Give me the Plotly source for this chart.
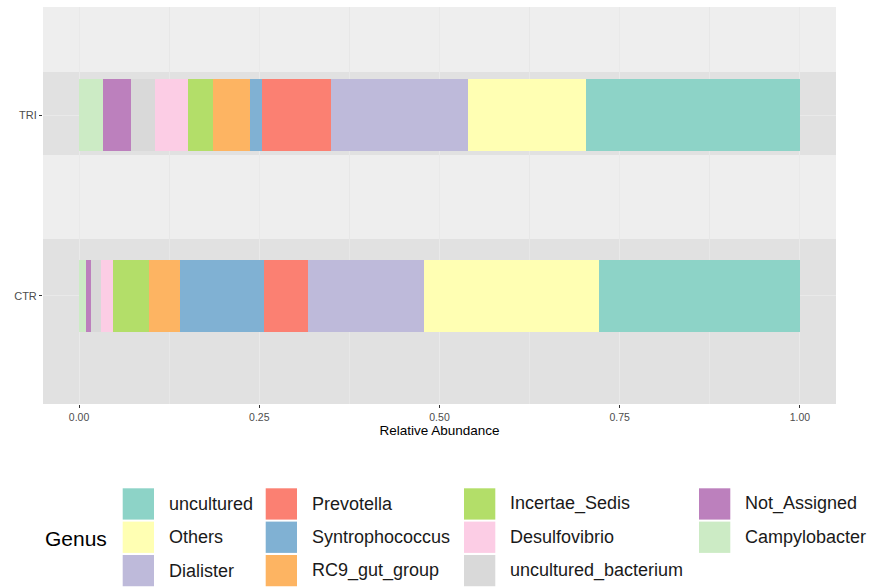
import plotly.graph_objects as go

# Stacking order along the bar (left to right)
genera = ["Campylobacter", "Not_Assigned", "uncultured_bacterium", "Desulfovibrio",
          "Incertae_Sedis", "RC9_gut_group", "Syntrophococcus", "Prevotella",
          "Dialister", "Others", "uncultured"]
colors = ["#CCEBC5", "#BC80BD", "#D9D9D9", "#FCCDE5", "#B3DE69", "#FDB462",
          "#80B1D3", "#FB8072", "#BEBADA", "#FFFFB3", "#8DD3C7"]
samples = ["CTR", "TRI"]
ctr_abund = [0.010, 0.007, 0.014, 0.016, 0.050, 0.043, 0.116, 0.062, 0.161, 0.242, 0.279]
tri_abund = [0.033, 0.039, 0.034, 0.045, 0.035, 0.051, 0.017, 0.096, 0.190, 0.163, 0.297]
x_ticks = [0, 0.25, 0.5, 0.75, 1.0]
x_tick_text = ["0.00", "0.25", "0.50", "0.75", "1.00"]

W, H = 873, 588
ML, MR, MT, MB = 43, 37, 7, 184
PW, PH = W - ML - MR, H - MT - MB


def px(x):
    return (x - ML) / PW


def py(y):
    return (H - MB - y) / PH


fig = go.Figure()
for g, c, a, b in zip(genera, colors, ctr_abund, tri_abund):
    fig.add_trace(go.Bar(
        y=samples, x=[a, b], name=g, orientation="h",
        marker=dict(color=c, line=dict(width=0)),
        width=0.4, showlegend=False,
    ))

shapes = [
    # alternating panel bands
    dict(type="rect", xref="paper", yref="y", x0=0, x1=1, y0=0.78, y1=1.24,
         fillcolor="#E1E1E1", line=dict(width=0), layer="below"),
    dict(type="rect", xref="paper", yref="y", x0=0, x1=1, y0=-0.6, y1=0.314,
         fillcolor="#E1E1E1", line=dict(width=0), layer="below"),
]
annotations = []

# Genus legend, three rows per column
col_x = [122.7, 265.7, 464, 699]
row_y = [488.3, 521.6, 554.9]
key = 31.3
legend_order = list(reversed(range(len(genera))))
for i, gi in enumerate(legend_order):
    col, row = divmod(i, 3)
    x0, y0 = col_x[col], row_y[row]
    shapes.append(dict(type="rect", xref="paper", yref="paper",
                       x0=px(x0), x1=px(x0 + key), y0=py(y0 + key), y1=py(y0),
                       fillcolor=colors[gi], line=dict(width=0)))
    annotations.append(dict(xref="paper", yref="paper", x=px(x0 + 44), y=py(y0 + key / 2),
                            text=genera[gi], showarrow=False, xanchor="left", yanchor="middle",
                            font=dict(size=18, color="#1A1A1A", family="Liberation Sans, Arial")))
annotations.append(dict(xref="paper", yref="paper", x=px(43), y=py(538),
                        text="Genus", showarrow=False, xanchor="left", yanchor="middle",
                        font=dict(size=21, color="#000000", family="Liberation Sans, Arial")))

fig.update_layout(
    barmode="stack",
    width=W, height=H,
    margin=dict(l=ML, r=MR, t=MT, b=MB, pad=0),
    paper_bgcolor="white",
    plot_bgcolor="#EEEEEE",
    shapes=shapes,
    annotations=annotations,
    font=dict(family="Liberation Sans, Arial"),
)
fig.update_xaxes(
    range=[-0.05, 1.05], tickvals=x_ticks, ticktext=x_tick_text,
    ticks="outside", ticklen=3, tickcolor="#333333", tickwidth=1,
    tickfont=dict(size=10.5, color="#4D4D4D"),
    showgrid=True, gridcolor="#E9E9E9", gridwidth=1,
    minor=dict(tickvals=[0.125, 0.375, 0.625, 0.875], showgrid=True, gridcolor="#E7E7E7", gridwidth=0.6),
    zeroline=False, showline=False,
    title=dict(text="Relative Abundance", standoff=2,
               font=dict(size=13.5, color="#000000")),
)
fig.update_yaxes(
    categoryorder="array", categoryarray=samples, range=[-0.6, 1.6],
    ticks="outside", ticklen=3, tickcolor="#333333", tickwidth=1,
    tickfont=dict(size=11, color="#4D4D4D"),
    showgrid=True, gridcolor="#E9E9E9", gridwidth=1,
    zeroline=False, showline=False,
)

fig.write_html("out.html")
